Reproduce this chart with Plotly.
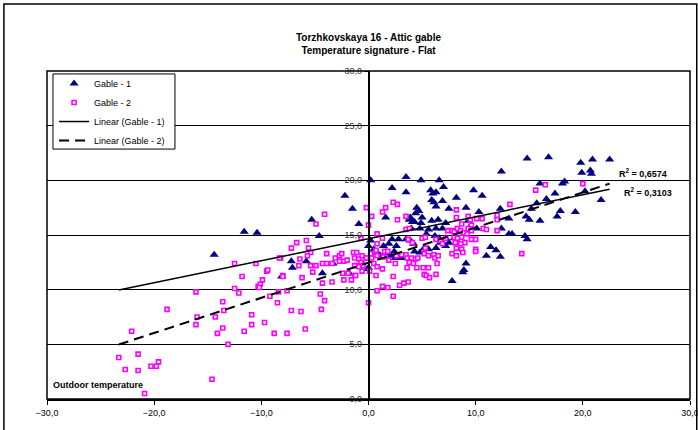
import numpy as np
import plotly.graph_objects as go

# ---- data (outdoor temp, attic temp) ----
gable1_x = [-14.4, -11.6, -10.4, -2.2, -1.5, -5.3, -0.9, -4.6, -7.2, -7.1, -8.1, -5.8, -4.3, -3.3, -1.8, -0.1,
            0.2, 2.2, 3.5, 3.5, 4.9, 6.6, 7.0, 5.8, 6.0, 6.3, 5.9, 6.1, 6.9, 6.3,
            8.2, 7.5, 9.1, 9.8, 10.6, 10.3, 4.5, 4.7, 4.4, 3.9, 4.1, 3.8, 4.3, 5.0, 4.9,
            5.9, 6.5, 7.2, 1.6, 4.0, 4.8, 5.6, 6.3, 6.9, 5.4, 6.2, 6.6, 7.2,
            12.3, 13.1, 12.4, 13.1, 13.4, 12.4, 14.8, 16.8, 16.0, 18.3, 18.1,
            19.8, 19.9, 20.2, 17.4, 16.6, 15.7, 15.2, 14.7, 15.0, 16.0, 17.9, 17.6, 19.3,
            14.6, 14.8, 11.4, 11.9, 11.0, 12.3, 9.1, 8.9, 8.8, 7.8,
            2.2, 2.8, 1.9, 2.6, 2.4, 1.6, 2.1, 2.5, 3.1, 0.2, 0.0, 0.5, 0.1, 0.0,
            0.8, 1.4, 1.1, 4.2, 4.3, 5.2, 5.6, 4.8, 3.9, 3.5, 9.3, 9.5, 10.1,
            8.2, 7.5, 8.0, 6.7, 7.2, 6.3, 20.9, 22.5, 20.7, 20.8, 21.7]
gable1_y = [13.2, 15.3, 15.2, 18.6, 17.4, 16.4, 16.0, 14.9, 12.6, 12.0, 11.2, 12.6, 11.5, 12.4, 11.5, 11.9,
            20.0, 19.3, 20.3, 18.9, 20.0, 20.0, 19.4, 19.1, 18.8, 18.9, 18.2, 18.0, 18.1, 17.6,
            18.4, 17.4, 17.5, 19.1, 18.6, 17.1, 17.5, 17.2, 17.0, 16.6, 16.2, 16.4, 16.2, 16.6, 16.1,
            16.3, 16.4, 16.1, 16.6, 15.6, 15.6, 15.5, 15.6, 15.6, 15.1, 14.9, 14.7, 14.7,
            17.4, 16.5, 15.6, 15.1, 15.1, 20.8, 22.0, 22.1, 19.7, 19.9, 19.7,
            21.6, 20.7, 19.0, 18.8, 18.3, 17.9, 17.4, 16.7, 16.4, 16.3, 17.2, 16.7, 17.1,
            14.9, 14.6, 13.9, 13.6, 13.1, 13.0, 12.4, 11.8, 11.6, 10.8,
            14.6, 14.6, 14.2, 14.0, 13.5, 13.3, 13.1, 12.9, 12.9, 14.5, 14.0, 13.7, 13.0, 12.0,
            13.4, 14.0, 13.1, 14.2, 13.5, 13.8, 13.7, 13.4, 14.5, 14.6, 16.3, 15.8, 15.6,
            15.4, 14.3, 14.7, 14.3, 14.0, 13.8, 21.9, 21.9, 20.9, 20.6, 18.2]

gable2_x = [-12.5, -10.5, -11.8, -16.1, -12.5, -12.1, -10.3, -13.6, -13.5, -18.8, -16.0, -16.1, -14.3, -10.9, -10.9,
            -13.6, -14.1, -11.6, -22.1, -13.1, -23.3, -21.5, -22.7, -21.5, -20.3, -19.8, -19.6, -14.6, -20.9,
            -8.2, -9.9, -10.1, -9.5, -9.4, -10.2, -9.2, -8.4, -8.5, -7.6, -7.2, -9.7, -8.8, -7.6, -6.5,
            -4.1, -4.9, -0.2, -6.7, -5.8, -7.2, -5.6, -5.4, -8.3, -6.4, -5.7, -3.9, -3.1, -2.7, -2.5,
            -4.3, -3.9, -3.4, -5.4, -4.9, -2.7, -2.3, -2.0, -1.4, -1.1, -1.3, -0.9, -0.6, -0.2,
            -1.3, -0.9, -1.3, -2.4, -1.9, -3.4, -2.3, -1.6, -1.2, -4.3, -5.2, -6.2, -8.0, -8.0,
            -4.5, -4.1, -4.4, -6.3, -5.9,
            0.0, 0.3, 1.3, 1.6, 2.3, 2.7, 3.5, 2.7, 3.5, 3.8, 0.8, 1.3, 0.8, 0.7, 0.2, 0.3, 0.8,
            1.5, 1.8, 1.4, 1.9, 2.5, 0.5, 0.8, 1.3, 0.7, 0.1, 2.3, 2.9, 3.3, 3.7, 1.3, 1.8, 0.8, 2.3, 0.0,
            2.6, 3.1, 3.5, 3.6, 4.0, 4.4, 4.6, 4.2, 4.5, 5.3, 5.2, 5.6, 6.1, 6.2, 6.5, 3.6, 3.8,
            5.1, 5.6, 6.4, 5.2, 5.4, 5.7, 6.3, 4.1, 3.7, 5.0, 5.3, 6.3, 6.7, 6.9, 7.2,
            7.4, 7.8, 8.0, 8.3, 8.6, 8.2, 8.2, 8.7, 9.3, 9.5, 9.6, 9.3, 9.6, 10.1, 10.6, 10.7, 11.0,
            12.0, 12.0, 13.2, 14.3, 15.6, 16.5, 20.0, 8.0, 8.3, 8.7, 8.9, 9.2,
            8.1, 8.6, 8.2, 8.7, 9.0, 9.6, 10.0, 10.0, 7.8, 8.2, 8.8, -0.7,
            -0.7, -0.6, -0.2, -0.5, -0.6, -0.9, 12.0, 10.0]
gable2_y = [12.4, 12.4, 11.2, 9.8, 10.1, 9.7, 10.3, 8.9, 8.1, 8.2, 7.5, 6.8, 7.5, 7.7, 6.8,
            6.5, 6.0, 6.2, 6.2, 5.0, 3.8, 4.1, 2.7, 2.6, 3.0, 3.0, 3.4, 1.8, 0.5,
            12.9, 10.9, 10.5, 11.7, 11.8, 10.2, 9.4, 9.8, 8.8, 9.9, 8.1, 7.0, 6.0, 6.0, 12.2,
            16.9, 16.0, 17.5, 14.3, 14.5, 13.8, 13.8, 13.4, 12.9, 12.8, 13.1, 13.3, 12.9, 13.1, 13.3,
            12.4, 12.4, 12.4, 12.2, 12.2, 12.6, 12.6, 12.7, 13.4, 13.4, 12.9, 12.8, 12.4, 12.9,
            12.2, 12.2, 11.3, 11.5, 11.5, 10.7, 10.9, 10.9, 11.3, 10.6, 11.6, 11.1, 11.3, 11.2,
            9.6, 9.0, 8.2, 8.0, 6.4,
            15.9, 16.7, 17.1, 17.5, 18.0, 17.8, 16.7, 16.4, 15.5, 15.6, 15.1, 14.7, 14.2, 13.6, 13.3, 12.9, 13.1,
            13.5, 13.5, 13.0, 12.7, 12.4, 12.4, 12.1, 11.9, 11.3, 11.7, 11.2, 10.4, 10.6, 10.7, 10.3, 10.2, 9.9, 9.4, 8.8,
            13.1, 13.2, 13.2, 12.9, 12.9, 12.8, 12.9, 12.4, 12.0, 13.8, 13.3, 13.1, 13.2, 12.9, 13.1, 12.0, 12.5,
            12.0, 12.0, 12.4, 11.4, 11.3, 11.1, 11.4, 14.3, 14.6, 14.7, 14.8, 14.6, 14.5, 14.2, 14.7,
            15.4, 15.4, 15.3, 15.6, 15.4, 17.3, 16.6, 16.0, 16.7, 16.4, 15.9, 15.6, 15.4, 16.5, 16.5, 15.6, 15.5,
            16.8, 15.4, 17.8, 13.3, 19.1, 19.6, 19.7, 14.8, 14.7, 14.8, 15.2, 15.1,
            14.3, 14.2, 13.8, 13.7, 14.3, 14.6, 14.6, 13.7, 13.3, 13.1, 13.4, 14.7,
            12.5, 13.1, 12.9, 12.2, 11.7, 12.1, 16.4, 13.5]

series_names = ["Gable - 1", "Gable - 2"]
trend_names = ["Linear (Gable - 1)", "Linear (Gable - 2)"]
r2_labels = ["R<sup>2</sup> = 0,6574", "R<sup>2</sup> = 0,3103"]
x_ticks = [-30, -20, -10, 0, 10, 20, 30]
y_ticks = [0, 5, 10, 15, 20, 25, 30]
title_lines = ["Torzhkovskaya 16 - Attic gable", "Temperature signature - Flat"]
x_axis_label = "Outdoor temperature"

FONT = "Liberation Sans, Arial, sans-serif"

# linear trendlines fitted from data, drawn over the full data range
all_x = np.array(gable1_x + gable2_x)
xr = np.array([all_x.min(), all_x.max()])
p1 = np.polyfit(gable1_x, gable1_y, 1)
p2 = np.polyfit(gable2_x, gable2_y, 1)

fig = go.Figure()
fig.add_trace(go.Scatter(x=gable1_x, y=gable1_y, mode="markers", name=series_names[0],
                         marker=dict(symbol="triangle-up", size=8, color="#000080",
                                     line=dict(width=0))))
fig.add_trace(go.Scatter(x=gable2_x, y=gable2_y, mode="markers", name=series_names[1],
                         marker=dict(symbol="square", size=4, color="white",
                                     line=dict(color="#FF00FF", width=1.6))))
fig.add_trace(go.Scatter(x=xr, y=np.polyval(p1, xr), mode="lines", name=trend_names[0],
                         line=dict(color="black", width=1.5)))
fig.add_trace(go.Scatter(x=xr, y=np.polyval(p2, xr), mode="lines", name=trend_names[1],
                         line=dict(color="black", width=2, dash="10px,6px")))

# R² labels next to the trendline ends
fig.add_annotation(x=23.2, y=20.7, text="<b>" + r2_labels[0] + "</b>", showarrow=False,
                   xanchor="left", yanchor="middle", font=dict(size=9, family=FONT))
fig.add_annotation(x=23.7, y=18.9, text="<b>" + r2_labels[1] + "</b>", showarrow=False,
                   xanchor="left", yanchor="middle", font=dict(size=9, family=FONT))
fig.add_annotation(x=-29.6, y=1.3, text="<b>" + x_axis_label + "</b>", showarrow=False,
                   xanchor="left", yanchor="middle", font=dict(size=9, family=FONT))
# title
fig.add_annotation(xref="paper", yref="paper", x=0.5, y=1.082,
                   text="<b>" + title_lines[0] + "</b><br><b>" + title_lines[1] + "</b>",
                   showarrow=False, xanchor="center", yanchor="middle",
                   font=dict(size=10, family=FONT))

# plot-area frame, legend box and outer chart frame
fig.add_shape(type="rect", xref="x domain", yref="y domain", x0=0, x1=1, y0=0, y1=1,
              line=dict(color="black", width=1.5), layer="above")
fig.add_shape(type="rect", xref="paper", yref="paper", x0=0.0093, x1=0.199, y0=0.762, y1=0.991,
              line=dict(color="black", width=1), fillcolor="white", layer="above")
fig.add_shape(type="rect", xref="paper", yref="paper", x0=-0.067, x1=1.0105, y0=-0.2, y1=1.204,
              line=dict(color="black", width=1.5))

fig.update_layout(
    width=698, height=430,
    margin=dict(l=47, r=8, t=71, b=31, autoexpand=False),
    paper_bgcolor="white", plot_bgcolor="white",
    separators=",.",
    font=dict(family=FONT, size=9, color="black"),
    showlegend=True,
    legend=dict(x=0.011, y=1.006, xanchor="left", yanchor="top", bgcolor="rgba(0,0,0,0)",
                borderwidth=0, font=dict(size=9, family=FONT), tracegroupgap=0),
    xaxis=dict(range=[-30, 30], tickvals=x_ticks, tickformat=".1f", showgrid=False,
               zeroline=False, showline=True, linecolor="black", linewidth=1.5,
               ticks="outside", ticklen=4, tickcolor="black", tickfont=dict(size=9),
               ticklabeloverflow="allow", automargin=False),
    yaxis=dict(range=[0, 30], tickvals=y_ticks, tickformat=".1f", showgrid=True,
               gridcolor="black", gridwidth=1, zeroline=False, anchor="free", position=0.5,
               showline=True, linecolor="black", linewidth=1.5, ticks="outside", ticklen=4,
               tickcolor="black", tickfont=dict(size=9, color="#333"), automargin=False),
)

fig.write_html("out.html")
